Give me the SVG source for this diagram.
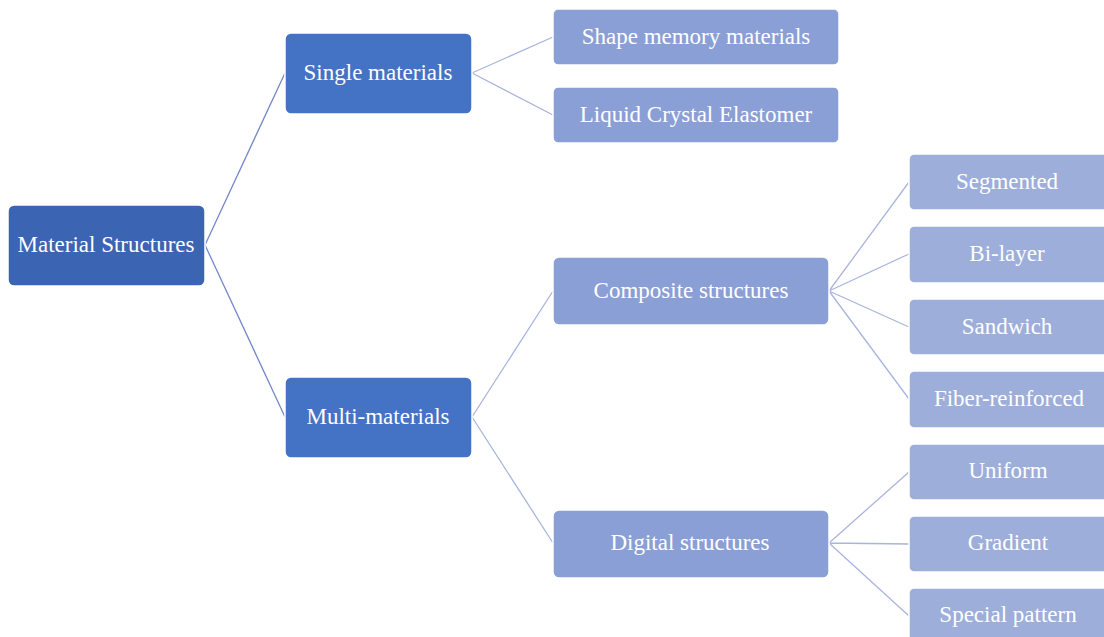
<svg xmlns="http://www.w3.org/2000/svg" width="1104" height="637" viewBox="0 0 1104 637">
<style>
.box{stroke:#ffffff;stroke-width:1.5}
.root{fill:#3B64B3}
.l1{fill:#4472C4}
.l2{fill:#8A9FD5}
.l3{fill:#9DAEDB}
.t{font-family:"Liberation Serif","Times New Roman",serif;fill:#ffffff;text-anchor:middle;dominant-baseline:central;font-size:23px}
.c{fill:none;stroke-width:1.3}
.c1{stroke:#7589C9}
.c2{stroke:#A9B5DE}
</style>
<rect width="1104" height="637" fill="#ffffff"/>
<g id="connectors">
<path class="c c1" d="M205,245 L285,73 M205,245 L285,417"/>
<path class="c c2" d="M472,73 L553,37 M472,73 L553,115"/>
<path class="c c2" d="M472,417 L553,291 M472,417 L553,543"/>
<path class="c c2" d="M829,291 L909,182 M829,291 L909,254 M829,291 L909,327 M829,291 L909,399"/>
<path class="c c2" d="M829,543 L909,472 M829,543 L909,544 M829,543 L909,616"/>
</g>
<g id="root"><rect class="box root" x="8" y="205" width="197" height="81" rx="6"/><text class="t" x="106" y="244">Material Structures</text></g>
<g id="single"><rect class="box l1" x="285" y="33" width="187" height="81" rx="6"/><text class="t" x="378" y="72">Single materials</text></g>
<g id="multi"><rect class="box l1" x="285" y="377" width="187" height="81" rx="6"/><text class="t" x="378" y="416">Multi-materials</text></g>
<g id="shape"><rect class="box l2" x="553" y="9" width="286" height="56" rx="5"/><text class="t" x="696" y="36">Shape memory materials</text></g>
<g id="lce"><rect class="box l2" x="553" y="87" width="286" height="56" rx="5"/><text class="t" x="696" y="114">Liquid Crystal Elastomer</text></g>
<g id="composite"><rect class="box l2" x="553" y="257" width="276" height="68" rx="6"/><text class="t" x="691" y="290">Composite structures</text></g>
<g id="digital"><rect class="box l2" x="553" y="510" width="276" height="68" rx="6"/><text class="t" x="690" y="542">Digital structures</text></g>
<g id="segmented"><rect class="box l3" x="909" y="154" width="200" height="56" rx="5"/><text class="t" x="1007" y="181">Segmented</text></g>
<g id="bilayer"><rect class="box l3" x="909" y="226" width="200" height="57" rx="5"/><text class="t" x="1007" y="253">Bi-layer</text></g>
<g id="sandwich"><rect class="box l3" x="909" y="299" width="200" height="56" rx="5"/><text class="t" x="1007" y="326">Sandwich</text></g>
<g id="fiber"><rect class="box l3" x="909" y="371" width="200" height="57" rx="5"/><text class="t" x="1009" y="398">Fiber-reinforced</text></g>
<g id="uniform"><rect class="box l3" x="909" y="444" width="200" height="56" rx="5"/><text class="t" x="1008" y="470">Uniform</text></g>
<g id="gradient"><rect class="box l3" x="909" y="516" width="200" height="56" rx="5"/><text class="t" x="1008" y="542">Gradient</text></g>
<g id="special"><rect class="box l3" x="909" y="588" width="200" height="60" rx="5"/><text class="t" x="1008" y="614">Special pattern</text></g>
</svg>
